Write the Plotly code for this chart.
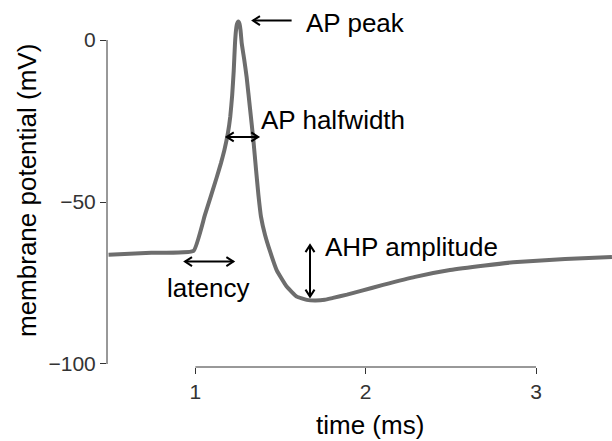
import plotly.graph_objects as go

# Action potential trace: time (ms) and membrane potential (mV)
time_ms = [0.490, 0.740, 0.989, 1.056, 1.124, 1.150, 1.170, 1.190, 1.205, 1.216,
           1.225, 1.2325, 1.238, 1.244, 1.252, 1.259, 1.265, 1.272, 1.286, 1.301,
           1.321, 1.341, 1.356, 1.370, 1.385, 1.409, 1.438, 1.477, 1.536, 1.595,
           1.654, 1.702, 1.760, 1.808, 1.890, 1.967, 2.102, 2.290, 2.495, 2.700,
           2.889, 3.171, 3.446]
membrane_mv = [-66.3, -65.7, -65.1, -54.0, -42.6, -38.0, -34.0, -29.0, -23.5, -17.0,
               -9.5, -1.0, 2.8, 4.9, 5.7, 5.0, 3.0, -1.0, -5.8, -11.5,
               -21.3, -31.2, -40.0, -47.8, -54.5, -60.2, -65.2, -71.0, -76.1, -79.2,
               -80.2, -80.4, -80.2, -79.6, -78.6, -77.5, -75.6, -73.1, -71.0, -69.6,
               -68.5, -67.6, -67.0]

# Axis ticks
x_ticks = [1, 2, 3]
y_ticks = [-100, -50, 0]

# Labelled measurements: label text, label anchor (time, mV)
labels = ["AP peak", "AP halfwidth", "latency", "AHP amplitude"]
label_x = [1.638, 1.375, 1.075, 1.752]
label_y = [5.4, -24.7, -76.5, -63.8]
label_anchor = ["left", "left", "center", "left"]

# Measurement arrows: start (time, mV), end (time, mV), which ends carry heads
arrow_x0 = [1.338, 1.184, 0.939, 1.673]
arrow_y0 = [6.0, -29.9, -68.4, -63.3]
arrow_x1 = [1.565, 1.369, 1.223, 1.673]
arrow_y1 = [6.0, -29.9, -68.4, -79.2]
arrow_heads = [("start",), ("start", "end"), ("start", "end"), ("start", "end")]

TEXT_FONT = "Arial, Liberation Sans, sans-serif"
AXIS_COLOR = "#333333"

fig = go.Figure()
fig.add_trace(go.Scatter(
    x=time_ms, y=membrane_mv, mode="lines",
    line=dict(color="#6d6d6d", width=4, shape="spline", smoothing=0.35),
    hoverinfo="skip", showlegend=False,
))

shapes = []
# Detached axis spines covering only the tick span
shapes.append(dict(type="line", xref="x", yref="paper", x0=x_ticks[0], x1=x_ticks[-1],
                   y0=0, y1=0, line=dict(color=AXIS_COLOR, width=1)))
shapes.append(dict(type="line", xref="paper", yref="y", x0=0, x1=0,
                   y0=y_ticks[0], y1=y_ticks[-1], line=dict(color=AXIS_COLOR, width=1)))


def head(x, y, direction):
    """Open chevron arrowhead whose tip sits at (x, y)."""
    back, half = 7, 4.5
    if direction == "left":
        path = f"M {back} {half} L 0 0 L {back} {-half}"
    elif direction == "right":
        path = f"M {-back} {half} L 0 0 L {-back} {-half}"
    elif direction == "up":
        path = f"M {-half} {-back} L 0 0 L {half} {-back}"
    else:
        path = f"M {-half} {back} L 0 0 L {half} {back}"
    return dict(type="path", xref="x", yref="y", xsizemode="pixel", ysizemode="pixel",
                xanchor=x, yanchor=y, path=path, fillcolor="rgba(0,0,0,0)",
                line=dict(color="black", width=2))


for x0, y0, x1, y1, ends in zip(arrow_x0, arrow_y0, arrow_x1, arrow_y1, arrow_heads):
    shapes.append(dict(type="line", xref="x", yref="y", x0=x0, y0=y0, x1=x1, y1=y1,
                       line=dict(color="black", width=2)))
    horizontal = y0 == y1
    if "start" in ends:
        shapes.append(head(x0, y0, "left" if horizontal else ("up" if y0 > y1 else "down")))
    if "end" in ends:
        shapes.append(head(x1, y1, "right" if horizontal else ("down" if y0 > y1 else "up")))

annotations = []
for text, x, y, anchor in zip(labels, label_x, label_y, label_anchor):
    annotations.append(dict(text=text, x=x, y=y, xref="x", yref="y", showarrow=False,
                            xanchor=anchor, yanchor="middle",
                            font=dict(family=TEXT_FONT, size=26, color="black")))

# Axis titles
annotations.append(dict(text="time (ms)", x=0.5208, y=-0.158, xref="paper", yref="paper",
                        showarrow=False, xanchor="center", yanchor="middle",
                        font=dict(family=TEXT_FONT, size=26, color="black")))
annotations.append(dict(text="membrane potential (mV)", x=-0.1584, y=0.4796,
                        xref="paper", yref="paper", textangle=-90, showarrow=False,
                        xanchor="center", yanchor="middle",
                        font=dict(family=TEXT_FONT, size=26, color="black")))

fig.update_layout(
    width=612, height=441,
    margin=dict(l=107, r=0, t=0, b=74),
    paper_bgcolor="white", plot_bgcolor="white",
    shapes=shapes, annotations=annotations,
    xaxis=dict(range=[0.4809, 3.4463], tickvals=x_ticks, showline=False, showgrid=False,
               zeroline=False, ticks="outside", ticklen=6, tickwidth=1, tickcolor=AXIS_COLOR,
               tickfont=dict(family=TEXT_FONT, size=21, color=AXIS_COLOR)),
    yaxis=dict(range=[-100.93, 12.35], tickvals=y_ticks, showline=False, showgrid=False,
               zeroline=False, ticks="outside", ticklen=6, tickwidth=1, tickcolor=AXIS_COLOR,
               tickfont=dict(family=TEXT_FONT, size=21, color=AXIS_COLOR)),
)

fig.write_html("out.html")
